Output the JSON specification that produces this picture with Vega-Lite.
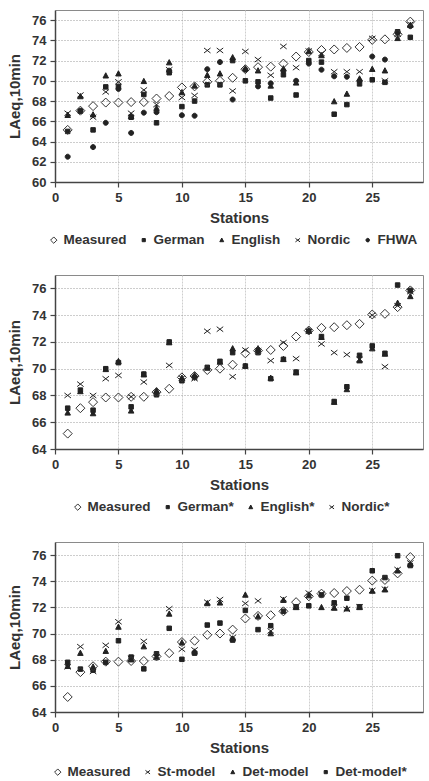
{
  "$schema": "https://vega.github.io/schema/vega-lite/v6.json",
  "background": "white",
  "padding": {"top": 9, "left": 7, "right": 0, "bottom": 0},
  "config": {
    "font": "Liberation Sans",
    "view": {"stroke": "#8a8a8a", "strokeWidth": 1},
    "concat": {"spacing": 26},
    "axis": {
      "labelFont": "Liberation Sans", "labelFontWeight": "bold", "labelFontSize": 13, "labelColor": "#333",
      "titleFont": "Liberation Sans", "titleFontWeight": "bold", "titleFontSize": 15, "titleColor": "#333",
      "domainColor": "#444", "domainWidth": 1.5, "tickColor": "#444", "tickSize": 5, "tickWidth": 1.2,
      "labelPadding": 4, "titlePadding": 6,
      "grid": true, "gridColor": "#9a9a9a", "gridDash": [1, 2], "gridWidth": 1
    },
    "axisY": {"titlePadding": 9},
    "axisX": {"gridColor": "#cfcfcf", "gridDash": [2, 1], "labelFlush": false},
    "legend": {
      "orient": "none", "direction": "horizontal", "title": null,
      "labelFont": "Liberation Sans", "labelFontWeight": "bold", "labelFontSize": 13.5, "labelColor": "#333",
      "symbolSize": 50, "symbolStrokeWidth": 1,
      "columnPadding": 10, "labelOffset": 3
    }
  },
  "datasets": {
    "p1": [
      {"s":1,"k":"German","v":65.0},{"s":2,"k":"German","v":67.0},{"s":3,"k":"German","v":65.15},{"s":4,"k":"German","v":69.4},{"s":5,"k":"German","v":69.45},{"s":6,"k":"German","v":66.4},{"s":7,"k":"German","v":68.65},{"s":8,"k":"German","v":65.85},{"s":9,"k":"German","v":70.8},{"s":10,"k":"German","v":67.45},{"s":11,"k":"German","v":68.0},{"s":12,"k":"German","v":69.6},{"s":13,"k":"German","v":69.6},{"s":14,"k":"German","v":72.0},{"s":15,"k":"German","v":70.0},{"s":16,"k":"German","v":69.9},{"s":17,"k":"German","v":68.3},{"s":18,"k":"German","v":70.6},{"s":19,"k":"German","v":68.6},{"s":20,"k":"German","v":72.0},{"s":21,"k":"German","v":71.85},{"s":22,"k":"German","v":66.7},{"s":23,"k":"German","v":67.65},{"s":24,"k":"German","v":69.7},{"s":25,"k":"German","v":70.1},{"s":26,"k":"German","v":69.85},{"s":27,"k":"German","v":74.85},{"s":28,"k":"German","v":74.3},
      {"s":1,"k":"English","v":66.6},{"s":2,"k":"English","v":68.45},{"s":3,"k":"English","v":66.65},{"s":4,"k":"English","v":70.5},{"s":5,"k":"English","v":70.7},{"s":6,"k":"English","v":66.5},{"s":7,"k":"English","v":69.95},{"s":8,"k":"English","v":67.3},{"s":9,"k":"English","v":71.8},{"s":10,"k":"English","v":68.85},{"s":11,"k":"English","v":69.5},{"s":12,"k":"English","v":70.55},{"s":13,"k":"English","v":70.7},{"s":14,"k":"English","v":72.3},{"s":15,"k":"English","v":71.2},{"s":16,"k":"English","v":71.0},{"s":17,"k":"English","v":69.5},{"s":18,"k":"English","v":71.2},{"s":19,"k":"English","v":69.8},{"s":20,"k":"English","v":72.9},{"s":21,"k":"English","v":72.5},{"s":22,"k":"English","v":67.95},{"s":23,"k":"English","v":68.7},{"s":24,"k":"English","v":70.2},{"s":25,"k":"English","v":71.15},{"s":26,"k":"English","v":71.0},{"s":27,"k":"English","v":74.2},{"s":28,"k":"English","v":75.5},
      {"s":1,"k":"Nordic","v":66.8},{"s":2,"k":"Nordic","v":68.6},{"s":3,"k":"Nordic","v":66.4},{"s":4,"k":"Nordic","v":68.9},{"s":5,"k":"Nordic","v":69.9},{"s":6,"k":"Nordic","v":66.8},{"s":7,"k":"Nordic","v":69.1},{"s":8,"k":"Nordic","v":67.65},{"s":9,"k":"Nordic","v":71.1},{"s":10,"k":"Nordic","v":68.35},{"s":11,"k":"Nordic","v":68.55},{"s":12,"k":"Nordic","v":73.0},{"s":13,"k":"Nordic","v":73.0},{"s":14,"k":"Nordic","v":69.0},{"s":15,"k":"Nordic","v":72.9},{"s":16,"k":"Nordic","v":72.1},{"s":17,"k":"Nordic","v":70.55},{"s":18,"k":"Nordic","v":73.4},{"s":19,"k":"Nordic","v":71.3},{"s":20,"k":"Nordic","v":72.95},{"s":21,"k":"Nordic","v":72.7},{"s":22,"k":"Nordic","v":70.9},{"s":23,"k":"Nordic","v":70.9},{"s":24,"k":"Nordic","v":70.9},{"s":25,"k":"Nordic","v":74.2},{"s":26,"k":"Nordic","v":70.0},{"s":27,"k":"Nordic","v":74.6},{"s":28,"k":"Nordic","v":75.6},
      {"s":1,"k":"FHWA","v":62.5},{"s":2,"k":"FHWA","v":67.05},{"s":3,"k":"FHWA","v":63.45},{"s":4,"k":"FHWA","v":65.85},{"s":5,"k":"FHWA","v":69.2},{"s":6,"k":"FHWA","v":64.85},{"s":7,"k":"FHWA","v":66.85},{"s":8,"k":"FHWA","v":66.9},{"s":9,"k":"FHWA","v":71.0},{"s":10,"k":"FHWA","v":66.6},{"s":11,"k":"FHWA","v":66.55},{"s":12,"k":"FHWA","v":71.15},{"s":13,"k":"FHWA","v":71.85},{"s":14,"k":"FHWA","v":68.15},{"s":15,"k":"FHWA","v":71.1},{"s":16,"k":"FHWA","v":69.45},{"s":17,"k":"FHWA","v":69.75},{"s":18,"k":"FHWA","v":71.0},{"s":19,"k":"FHWA","v":70.0},{"s":20,"k":"FHWA","v":71.7},{"s":21,"k":"FHWA","v":71.1},{"s":22,"k":"FHWA","v":70.45},{"s":23,"k":"FHWA","v":70.4},{"s":24,"k":"FHWA","v":70.0},{"s":25,"k":"FHWA","v":72.4},{"s":26,"k":"FHWA","v":72.1},{"s":27,"k":"FHWA","v":74.75},{"s":28,"k":"FHWA","v":75.4},
      {"s":1,"k":"Measured","v":65.15},{"s":2,"k":"Measured","v":67.05},{"s":3,"k":"Measured","v":67.5},{"s":4,"k":"Measured","v":67.85},{"s":5,"k":"Measured","v":67.85},{"s":6,"k":"Measured","v":67.9},{"s":7,"k":"Measured","v":67.9},{"s":8,"k":"Measured","v":68.25},{"s":9,"k":"Measured","v":68.5},{"s":10,"k":"Measured","v":69.35},{"s":11,"k":"Measured","v":69.45},{"s":12,"k":"Measured","v":69.9},{"s":13,"k":"Measured","v":70.0},{"s":14,"k":"Measured","v":70.3},{"s":15,"k":"Measured","v":71.15},{"s":16,"k":"Measured","v":71.35},{"s":17,"k":"Measured","v":71.4},{"s":18,"k":"Measured","v":71.7},{"s":19,"k":"Measured","v":72.4},{"s":20,"k":"Measured","v":72.85},{"s":21,"k":"Measured","v":73.05},{"s":22,"k":"Measured","v":73.1},{"s":23,"k":"Measured","v":73.25},{"s":24,"k":"Measured","v":73.35},{"s":25,"k":"Measured","v":74.05},{"s":26,"k":"Measured","v":74.1},{"s":27,"k":"Measured","v":74.6},{"s":28,"k":"Measured","v":75.85}
    ],
    "p2": [
      {"s":1,"k":"German*","v":67.05},{"s":2,"k":"German*","v":68.4},{"s":3,"k":"German*","v":66.9},{"s":4,"k":"German*","v":70.0},{"s":5,"k":"German*","v":70.45},{"s":6,"k":"German*","v":67.15},{"s":7,"k":"German*","v":69.6},{"s":8,"k":"German*","v":68.05},{"s":9,"k":"German*","v":72.0},{"s":10,"k":"German*","v":69.1},{"s":11,"k":"German*","v":69.35},{"s":12,"k":"German*","v":70.1},{"s":13,"k":"German*","v":70.55},{"s":14,"k":"German*","v":71.2},{"s":15,"k":"German*","v":70.2},{"s":16,"k":"German*","v":71.2},{"s":17,"k":"German*","v":69.25},{"s":18,"k":"German*","v":70.7},{"s":19,"k":"German*","v":69.75},{"s":20,"k":"German*","v":72.8},{"s":21,"k":"German*","v":72.4},{"s":22,"k":"German*","v":67.55},{"s":23,"k":"German*","v":68.65},{"s":24,"k":"German*","v":71.0},{"s":25,"k":"German*","v":71.7},{"s":26,"k":"German*","v":71.15},{"s":27,"k":"German*","v":76.25},{"s":28,"k":"German*","v":75.85},
      {"s":1,"k":"English*","v":66.7},{"s":2,"k":"English*","v":68.3},{"s":3,"k":"English*","v":66.65},{"s":4,"k":"English*","v":69.95},{"s":5,"k":"English*","v":70.55},{"s":6,"k":"English*","v":66.85},{"s":7,"k":"English*","v":69.55},{"s":8,"k":"English*","v":68.35},{"s":9,"k":"English*","v":71.95},{"s":10,"k":"English*","v":69.3},{"s":11,"k":"English*","v":69.5},{"s":12,"k":"English*","v":70.05},{"s":13,"k":"English*","v":70.5},{"s":14,"k":"English*","v":71.5},{"s":15,"k":"English*","v":70.2},{"s":16,"k":"English*","v":71.5},{"s":17,"k":"English*","v":69.3},{"s":18,"k":"English*","v":70.7},{"s":19,"k":"English*","v":69.7},{"s":20,"k":"English*","v":72.85},{"s":21,"k":"English*","v":72.35},{"s":22,"k":"English*","v":67.5},{"s":23,"k":"English*","v":68.45},{"s":24,"k":"English*","v":70.6},{"s":25,"k":"English*","v":71.5},{"s":26,"k":"English*","v":71.1},{"s":27,"k":"English*","v":74.9},{"s":28,"k":"English*","v":75.4},
      {"s":1,"k":"Nordic*","v":68.0},{"s":2,"k":"Nordic*","v":68.85},{"s":3,"k":"Nordic*","v":68.0},{"s":4,"k":"Nordic*","v":69.25},{"s":5,"k":"Nordic*","v":69.5},{"s":6,"k":"Nordic*","v":67.9},{"s":7,"k":"Nordic*","v":69.0},{"s":8,"k":"Nordic*","v":68.2},{"s":9,"k":"Nordic*","v":70.25},{"s":10,"k":"Nordic*","v":69.3},{"s":11,"k":"Nordic*","v":69.25},{"s":12,"k":"Nordic*","v":72.8},{"s":13,"k":"Nordic*","v":72.95},{"s":14,"k":"Nordic*","v":69.4},{"s":15,"k":"Nordic*","v":71.4},{"s":16,"k":"Nordic*","v":71.35},{"s":17,"k":"Nordic*","v":70.6},{"s":18,"k":"Nordic*","v":71.95},{"s":19,"k":"Nordic*","v":70.75},{"s":20,"k":"Nordic*","v":72.8},{"s":21,"k":"Nordic*","v":71.85},{"s":22,"k":"Nordic*","v":71.2},{"s":23,"k":"Nordic*","v":71.05},{"s":24,"k":"Nordic*","v":70.7},{"s":25,"k":"Nordic*","v":74.0},{"s":26,"k":"Nordic*","v":70.15},{"s":27,"k":"Nordic*","v":74.7},{"s":28,"k":"Nordic*","v":75.75},
      {"s":1,"k":"Measured","v":65.15},{"s":2,"k":"Measured","v":67.05},{"s":3,"k":"Measured","v":67.5},{"s":4,"k":"Measured","v":67.85},{"s":5,"k":"Measured","v":67.85},{"s":6,"k":"Measured","v":67.9},{"s":7,"k":"Measured","v":67.9},{"s":8,"k":"Measured","v":68.25},{"s":9,"k":"Measured","v":68.5},{"s":10,"k":"Measured","v":69.35},{"s":11,"k":"Measured","v":69.45},{"s":12,"k":"Measured","v":69.9},{"s":13,"k":"Measured","v":70.0},{"s":14,"k":"Measured","v":70.3},{"s":15,"k":"Measured","v":71.15},{"s":16,"k":"Measured","v":71.35},{"s":17,"k":"Measured","v":71.4},{"s":18,"k":"Measured","v":71.7},{"s":19,"k":"Measured","v":72.4},{"s":20,"k":"Measured","v":72.85},{"s":21,"k":"Measured","v":73.05},{"s":22,"k":"Measured","v":73.1},{"s":23,"k":"Measured","v":73.25},{"s":24,"k":"Measured","v":73.35},{"s":25,"k":"Measured","v":74.05},{"s":26,"k":"Measured","v":74.1},{"s":27,"k":"Measured","v":74.6},{"s":28,"k":"Measured","v":75.85}
    ],
    "p3": [
      {"s":1,"k":"St-model","v":67.45},{"s":2,"k":"St-model","v":69.0},{"s":3,"k":"St-model","v":67.1},{"s":4,"k":"St-model","v":69.1},{"s":5,"k":"St-model","v":70.9},{"s":6,"k":"St-model","v":68.1},{"s":7,"k":"St-model","v":69.4},{"s":8,"k":"St-model","v":68.2},{"s":9,"k":"St-model","v":71.9},{"s":10,"k":"St-model","v":68.8},{"s":11,"k":"St-model","v":68.75},{"s":12,"k":"St-model","v":72.4},{"s":13,"k":"St-model","v":72.6},{"s":14,"k":"St-model","v":69.7},{"s":15,"k":"St-model","v":72.3},{"s":16,"k":"St-model","v":72.5},{"s":17,"k":"St-model","v":70.2},{"s":18,"k":"St-model","v":72.65},{"s":19,"k":"St-model","v":72.05},{"s":20,"k":"St-model","v":73.1},{"s":21,"k":"St-model","v":73.05},{"s":22,"k":"St-model","v":72.0},{"s":23,"k":"St-model","v":71.85},{"s":24,"k":"St-model","v":72.05},{"s":25,"k":"St-model","v":73.3},{"s":26,"k":"St-model","v":73.4},{"s":27,"k":"St-model","v":74.9},{"s":28,"k":"St-model","v":75.4},
      {"s":1,"k":"Det-model","v":67.5},{"s":2,"k":"Det-model","v":68.5},{"s":3,"k":"Det-model","v":67.45},{"s":4,"k":"Det-model","v":68.65},{"s":5,"k":"Det-model","v":70.5},{"s":6,"k":"Det-model","v":68.0},{"s":7,"k":"Det-model","v":69.0},{"s":8,"k":"Det-model","v":68.2},{"s":9,"k":"Det-model","v":71.5},{"s":10,"k":"Det-model","v":69.3},{"s":11,"k":"Det-model","v":68.6},{"s":12,"k":"Det-model","v":72.3},{"s":13,"k":"Det-model","v":72.35},{"s":14,"k":"Det-model","v":69.6},{"s":15,"k":"Det-model","v":72.95},{"s":16,"k":"Det-model","v":71.3},{"s":17,"k":"Det-model","v":70.0},{"s":18,"k":"Det-model","v":72.55},{"s":19,"k":"Det-model","v":72.0},{"s":20,"k":"Det-model","v":72.9},{"s":21,"k":"Det-model","v":72.0},{"s":22,"k":"Det-model","v":71.95},{"s":23,"k":"Det-model","v":71.9},{"s":24,"k":"Det-model","v":72.0},{"s":25,"k":"Det-model","v":73.25},{"s":26,"k":"Det-model","v":73.35},{"s":27,"k":"Det-model","v":74.8},{"s":28,"k":"Det-model","v":75.3},
      {"s":1,"k":"Det-model*","v":67.8},{"s":2,"k":"Det-model*","v":67.28},{"s":3,"k":"Det-model*","v":67.2},{"s":4,"k":"Det-model*","v":67.8},{"s":5,"k":"Det-model*","v":69.45},{"s":6,"k":"Det-model*","v":68.2},{"s":7,"k":"Det-model*","v":67.3},{"s":8,"k":"Det-model*","v":68.45},{"s":9,"k":"Det-model*","v":70.4},{"s":10,"k":"Det-model*","v":68.03},{"s":11,"k":"Det-model*","v":68.5},{"s":12,"k":"Det-model*","v":70.65},{"s":13,"k":"Det-model*","v":70.8},{"s":14,"k":"Det-model*","v":69.5},{"s":15,"k":"Det-model*","v":71.77},{"s":16,"k":"Det-model*","v":70.3},{"s":17,"k":"Det-model*","v":70.6},{"s":18,"k":"Det-model*","v":71.7},{"s":19,"k":"Det-model*","v":72.05},{"s":20,"k":"Det-model*","v":72.12},{"s":21,"k":"Det-model*","v":72.95},{"s":22,"k":"Det-model*","v":72.35},{"s":23,"k":"Det-model*","v":72.7},{"s":24,"k":"Det-model*","v":72.05},{"s":25,"k":"Det-model*","v":74.8},{"s":26,"k":"Det-model*","v":74.28},{"s":27,"k":"Det-model*","v":75.95},{"s":28,"k":"Det-model*","v":75.2},
      {"s":1,"k":"Measured","v":65.15},{"s":2,"k":"Measured","v":67.05},{"s":3,"k":"Measured","v":67.5},{"s":4,"k":"Measured","v":67.85},{"s":5,"k":"Measured","v":67.85},{"s":6,"k":"Measured","v":67.9},{"s":7,"k":"Measured","v":67.9},{"s":8,"k":"Measured","v":68.25},{"s":9,"k":"Measured","v":68.5},{"s":10,"k":"Measured","v":69.35},{"s":11,"k":"Measured","v":69.45},{"s":12,"k":"Measured","v":69.9},{"s":13,"k":"Measured","v":70.0},{"s":14,"k":"Measured","v":70.3},{"s":15,"k":"Measured","v":71.15},{"s":16,"k":"Measured","v":71.35},{"s":17,"k":"Measured","v":71.4},{"s":18,"k":"Measured","v":71.7},{"s":19,"k":"Measured","v":72.4},{"s":20,"k":"Measured","v":72.85},{"s":21,"k":"Measured","v":73.05},{"s":22,"k":"Measured","v":73.1},{"s":23,"k":"Measured","v":73.25},{"s":24,"k":"Measured","v":73.35},{"s":25,"k":"Measured","v":74.05},{"s":26,"k":"Measured","v":74.1},{"s":27,"k":"Measured","v":74.6},{"s":28,"k":"Measured","v":75.85}
    ]
  },
  "vconcat": [
    {
      "width": 368, "height": 172,
      "data": {"name": "p1"},
      "mark": {"type": "point", "filled": true, "size": 100, "strokeWidth": 1, "opacity": 1},
      "encoding": {
        "x": {"field": "s", "type": "quantitative", "scale": {"domain": [0, 29], "nice": false}, "axis": {"values": [0, 5, 10, 15, 20, 25], "title": "Stations"}},
        "y": {"field": "v", "type": "quantitative", "scale": {"domain": [60, 77], "nice": false, "zero": false}, "axis": {"values": [60, 62, 64, 66, 68, 70, 72, 74, 76], "title": "LAeq,10min"}},
        "shape": {"field": "k", "type": "nominal",
          "scale": {"domain": ["Measured", "German", "English", "Nordic", "FHWA"],
            "range": ["M0,-0.9L0.9,0L0,0.9L-0.9,0Z", "M-0.45,-0.45H0.45V0.45H-0.45Z", "M0,-0.6L0.55,0.45L-0.55,0.45Z", "M-0.65,-0.5L0.65,0.5M-0.65,0.5L0.65,-0.5", "M0.5,0A0.5,0.5 0 1,1 -0.5,0A0.5,0.5 0 1,1 0.5,0Z"]},
          "legend": {"legendX": -8, "legendY": 223, "symbolSize": 50}},
        "fill": {"field": "k", "type": "nominal",
          "scale": {"domain": ["Measured", "German", "English", "Nordic", "FHWA"], "range": ["transparent", "#222", "#222", "transparent", "#222"]},
          "legend": {"legendX": -8, "legendY": 223, "symbolSize": 50}},
        "stroke": {"field": "k", "type": "nominal",
          "scale": {"domain": ["Measured", "German", "English", "Nordic", "FHWA"], "range": ["#333", "#222", "#222", "#222", "#222"]},
          "legend": {"legendX": -8, "legendY": 223, "symbolSize": 50}}
      }
    },
    {
      "width": 368, "height": 174,
      "data": {"name": "p2"},
      "mark": {"type": "point", "filled": true, "size": 100, "strokeWidth": 1, "opacity": 1},
      "encoding": {
        "x": {"field": "s", "type": "quantitative", "scale": {"domain": [0, 29], "nice": false}, "axis": {"values": [0, 5, 10, 15, 20, 25], "title": "Stations"}},
        "y": {"field": "v", "type": "quantitative", "scale": {"domain": [64, 77], "nice": false, "zero": false}, "axis": {"values": [64, 66, 68, 70, 72, 74, 76], "title": "LAeq,10min"}},
        "shape": {"field": "k", "type": "nominal",
          "scale": {"domain": ["Measured", "German*", "English*", "Nordic*"],
            "range": ["M0,-0.9L0.9,0L0,0.9L-0.9,0Z", "M-0.45,-0.45H0.45V0.45H-0.45Z", "M0,-0.6L0.55,0.45L-0.55,0.45Z", "M-0.65,-0.5L0.65,0.5M-0.65,0.5L0.65,-0.5"]},
          "legend": {"legendX": 16, "legendY": 225, "symbolSize": 50}},
        "fill": {"field": "k", "type": "nominal",
          "scale": {"domain": ["Measured", "German*", "English*", "Nordic*"], "range": ["transparent", "#222", "#222", "transparent"]},
          "legend": {"legendX": 16, "legendY": 225, "symbolSize": 50}},
        "stroke": {"field": "k", "type": "nominal",
          "scale": {"domain": ["Measured", "German*", "English*", "Nordic*"], "range": ["#333", "#222", "#222", "#222"]},
          "legend": {"legendX": 16, "legendY": 225, "symbolSize": 50}}
      }
    },
    {
      "width": 368, "height": 170,
      "data": {"name": "p3"},
      "mark": {"type": "point", "filled": true, "size": 100, "strokeWidth": 1, "opacity": 1},
      "encoding": {
        "x": {"field": "s", "type": "quantitative", "scale": {"domain": [0, 29], "nice": false}, "axis": {"values": [0, 5, 10, 15, 20, 25], "title": "Stations"}},
        "y": {"field": "v", "type": "quantitative", "scale": {"domain": [64, 77], "nice": false, "zero": false}, "axis": {"values": [64, 66, 68, 70, 72, 74, 76], "title": "LAeq,10min"}},
        "shape": {"field": "k", "type": "nominal",
          "scale": {"domain": ["Measured", "St-model", "Det-model", "Det-model*"],
            "range": ["M0,-0.9L0.9,0L0,0.9L-0.9,0Z", "M-0.65,-0.5L0.65,0.5M-0.65,0.5L0.65,-0.5", "M0,-0.6L0.55,0.45L-0.55,0.45Z", "M-0.45,-0.45H0.45V0.45H-0.45Z"]},
          "legend": {"legendX": -4, "legendY": 223, "symbolSize": 50}},
        "fill": {"field": "k", "type": "nominal",
          "scale": {"domain": ["Measured", "St-model", "Det-model", "Det-model*"], "range": ["transparent", "transparent", "#222", "#222"]},
          "legend": {"legendX": -4, "legendY": 223, "symbolSize": 50}},
        "stroke": {"field": "k", "type": "nominal",
          "scale": {"domain": ["Measured", "St-model", "Det-model", "Det-model*"], "range": ["#333", "#222", "#222", "#222"]},
          "legend": {"legendX": -4, "legendY": 223, "symbolSize": 50}}
      }
    }
  ],
  "resolve": {
    "scale": {"shape": "independent", "fill": "independent", "stroke": "independent", "x": "independent", "y": "independent"},
    "legend": {"shape": "independent", "fill": "independent", "stroke": "independent"}
  }
}
